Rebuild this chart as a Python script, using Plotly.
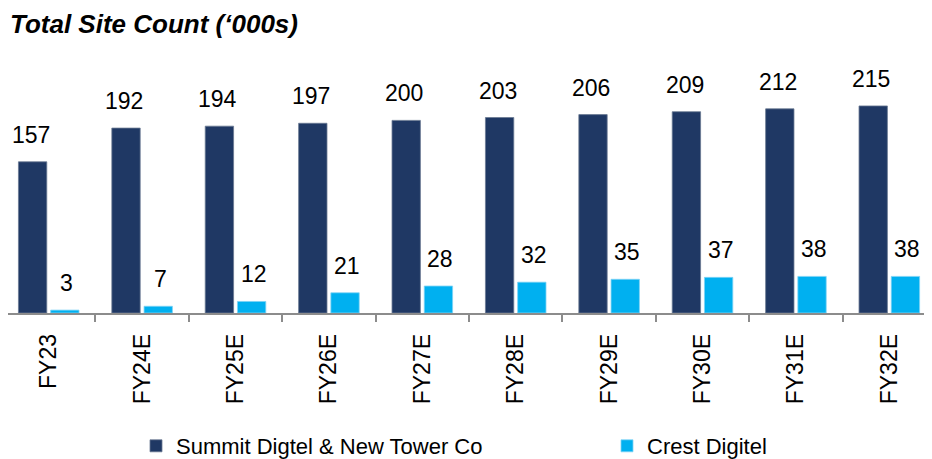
import plotly.graph_objects as go

categories = ["FY23", "FY24E", "FY25E", "FY26E", "FY27E", "FY28E", "FY29E", "FY30E", "FY31E", "FY32E"]
summit = [157, 192, 194, 197, 200, 203, 206, 209, 212, 215]
crest = [3, 7, 12, 21, 28, 32, 35, 37, 38, 38]
series_names = ["Summit Digtel & New Tower Co", "Crest Digitel"]
title_text = "Total Site Count (‘000s)"

NAVY = "#1F3864"
CYAN = "#00B0F0"
FONT = "Liberation Sans, Arial, sans-serif"

# page body keeps an 8px default margin, so the figure is 8px smaller than the window
W, H = 924, 451

fig = go.Figure()
fig.add_trace(go.Bar(x=categories, y=summit, name=series_names[0], legend="legend",
                     marker=dict(color=NAVY, line=dict(color="#6a7892", width=0.8))))
fig.add_trace(go.Bar(x=categories, y=crest, name=series_names[1], legend="legend2",
                     marker=dict(color=CYAN, line=dict(color="#7fd3f5", width=0.8))))

annotations = []
for vals, shift in ((summit, -18), (crest, 18)):
    for c, v in zip(categories, vals):
        annotations.append(dict(x=c, y=v, xref="x", yref="y", text=str(v),
                                showarrow=False, xshift=shift, yshift=12,
                                yanchor="bottom", font=dict(size=23, color="#000000", family=FONT)))

legend_common = dict(orientation="h", xref="container", yref="container",
                     xanchor="left", y=1 - 438 / H, yanchor="middle",
                     font=dict(size=22, family=FONT, color="#000000"),
                     itemwidth=30, bgcolor="rgba(0,0,0,0)")

fig.update_layout(
    width=W, height=H,
    margin=dict(l=0, r=0, t=52, b=146, autoexpand=False),
    paper_bgcolor="white", plot_bgcolor="white",
    barmode="group", bargap=0.31, bargroupgap=0.12,
    font=dict(family=FONT, color="#000000"),
    annotations=annotations,
    title=dict(text="<b><i>" + title_text + "</i></b>", xref="container", yref="container",
               x=2 / W, xanchor="left", y=1 - 16 / H, yanchor="middle",
               font=dict(size=26, family=FONT, color="#000000")),
    showlegend=True,
    legend=dict(x=128 / W, **legend_common),
    legend2=dict(x=599 / W, **legend_common),
)
fig.update_xaxes(range=[-0.436, 9.457], showline=True, linecolor="#8c8c8c", linewidth=1.5,
                 ticks="outside", tickson="boundaries", ticklen=7, tickcolor="#8c8c8c", tickwidth=1.5,
                 tickangle=-90, tickfont=dict(size=23, family=FONT, color="#000000"),
                 ticklabelstandoff=10, showgrid=False, fixedrange=True, automargin=False)
fig.update_yaxes(range=[0, 262.7], visible=False, showgrid=False, zeroline=False, automargin=False)

fig.write_html("out.html")
